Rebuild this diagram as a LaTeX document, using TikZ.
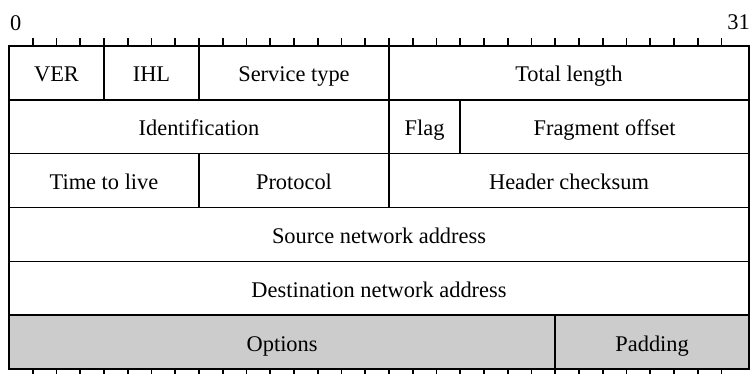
\documentclass[tikz,border=0pt]{standalone}
\usepackage{fontspec}
\setmainfont{Liberation Serif}
\definecolor{optgray}{HTML}{CCCCCC}
\begin{document}
\begin{tikzpicture}[x=1pt,y=-1pt,
  field/.style={draw=black, line width=1.6pt, inner sep=0pt, outer sep=0pt,
    anchor=north west, minimum height=53.83pt, minimum width=#1,
    text height=18pt, text depth=0pt,
    font=\fontsize{22.4}{25}\selectfont},
  field/.default=95pt,
  shaded/.style={field=#1, fill=optgray},
  tickmark/.style={line width=1.6pt},
  bitlabel/.style={inner sep=0pt, font=\fontsize{22.4}{25}\selectfont}]
\useasboundingbox (0,0) rectangle (750,374);

% bit positions: origin 9, one bit = 23.75, right edge at 749
\def\bx#1{9+23.75*#1}
% row tops
\def\ra{46}\def\rb{99.83}\def\rc{153.67}\def\rd{207.5}\def\re{261.33}\def\rf{315.17}

% row 1
\node[field=95pt]    (ver)     at (9,\ra)      {VER};
\node[field=95pt]    (ihl)     at (104,\ra)    {IHL};
\node[field=190pt]   (tos)     at (199,\ra)    {Service type};
\node[field=360pt]   (totlen)  at (389,\ra)    {Total length};
% row 2
\node[field=380pt]   (ident)   at (9,\rb)      {Identification};
\node[field=71.25pt] (flag)    at (389,\rb)    {Flag};
\node[field=288.75pt](fragoff) at (460.25,\rb) {Fragment offset};
% row 3
\node[field=190pt]   (ttl)     at (9,\rc)      {Time to live};
\node[field=190pt]   (proto)   at (199,\rc)    {Protocol};
\node[field=360pt]   (hcsum)   at (389,\rc)    {Header checksum};
% rows 4 and 5
\node[field=740pt]   (srcaddr) at (9,\rd)      {Source network address};
\node[field=740pt]   (dstaddr) at (9,\re)      {Destination network address};
% row 6
\node[shaded=546.25pt] (opts)  at (9,\rf)      {Options};
\node[shaded=193.75pt] (pad)   at (555.25,\rf) {Padding};

% bit rulers above and below
\foreach \b in {1,...,30}{
  \draw[tickmark] (\bx{\b},46) -- ++(0,-8);
  \draw[tickmark] (\bx{\b},369) -- ++(0,8);
}

\node[bitlabel, anchor=base west] (bitfirst) at (10,31) {0};
\node[bitlabel, anchor=base east] (bitlast) at (750,29.5) {31};
\end{tikzpicture}
\end{document}
